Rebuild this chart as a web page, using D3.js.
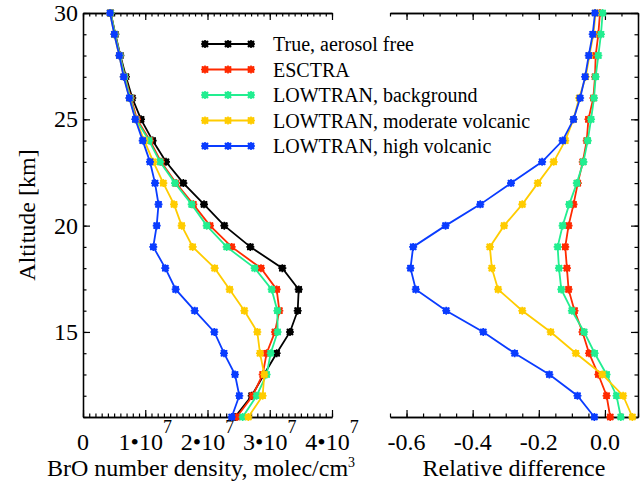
<!DOCTYPE html>
<html>
<head>
<meta charset="utf-8">
<script src="https://cdn.jsdelivr.net/npm/d3@7"></script>
<style>
  html, body { margin: 0; padding: 0; background: #fff; }
  svg { display: block; }
  svg text { font-family: "Liberation Serif", "DejaVu Serif", serif; }
</style>
</head>
<body>
<svg id="chart" width="641" height="481"></svg>
<script>
// Altitude profiles: BrO density (left) and relative difference to the true profile (right)

const altitudes = [30, 29, 28, 27, 26, 25, 24, 23, 22, 21, 20, 19, 18, 17, 16, 15, 14, 13, 12, 11];

// BrO number density, molec/cm3
const densTrue     = [0.445e7, 0.519e7, 0.600e7, 0.690e7, 0.792e7, 0.932e7, 1.119e7, 1.333e7, 1.612e7, 1.944e7, 2.270e7, 2.688e7, 3.202e7, 3.465e7, 3.449e7, 3.325e7, 3.111e7, 2.908e7, 2.710e7, 2.442e7];
const densEsctra   = [0.445e7, 0.516e7, 0.595e7, 0.675e7, 0.771e7, 0.867e7, 1.076e7, 1.253e7, 1.494e7, 1.772e7, 2.040e7, 2.388e7, 2.859e7, 3.111e7, 3.154e7, 3.084e7, 2.950e7, 2.886e7, 2.726e7, 2.469e7];
const densLowBack  = [0.445e7, 0.514e7, 0.594e7, 0.670e7, 0.760e7, 0.851e7, 1.060e7, 1.237e7, 1.478e7, 1.746e7, 1.987e7, 2.308e7, 2.758e7, 3.031e7, 3.122e7, 3.127e7, 3.015e7, 2.950e7, 2.790e7, 2.565e7];
const densLowMod   = [0.435e7, 0.503e7, 0.583e7, 0.655e7, 0.748e7, 0.845e7, 0.985e7, 1.130e7, 1.290e7, 1.462e7, 1.585e7, 1.762e7, 2.115e7, 2.356e7, 2.592e7, 2.800e7, 2.843e7, 2.913e7, 2.886e7, 2.656e7];
const densLowHigh  = [0.434e7, 0.503e7, 0.583e7, 0.653e7, 0.744e7, 0.840e7, 0.959e7, 1.076e7, 1.157e7, 1.213e7, 1.184e7, 1.129e7, 1.322e7, 1.489e7, 1.794e7, 2.109e7, 2.265e7, 2.442e7, 2.511e7, 2.389e7];

// relative difference to the aerosol-free profile
const relEsctra  = [-0.015, -0.020, -0.028, -0.030, -0.035, -0.050, -0.055, -0.067, -0.082, -0.095, -0.110, -0.120, -0.115, -0.110, -0.092, -0.068, -0.048, -0.020, 0.005, 0.016];
const relLowBack = [-0.007, -0.012, -0.020, -0.028, -0.033, -0.042, -0.052, -0.065, -0.085, -0.108, -0.128, -0.143, -0.139, -0.132, -0.100, -0.063, -0.031, 0.005, 0.035, 0.048];
const relLowMod  = [-0.028, -0.035, -0.047, -0.058, -0.078, -0.095, -0.120, -0.155, -0.203, -0.250, -0.305, -0.348, -0.342, -0.323, -0.250, -0.164, -0.088, -0.008, 0.055, 0.083];
const relLowHigh = [-0.030, -0.037, -0.049, -0.060, -0.075, -0.095, -0.128, -0.190, -0.284, -0.377, -0.482, -0.580, -0.588, -0.572, -0.480, -0.368, -0.273, -0.168, -0.083, -0.032];

const seriesNames = ["True, aerosol free", "ESCTRA", "LOWTRAN, background", "LOWTRAN, moderate volcanic", "LOWTRAN, high volcanic"];
const seriesColors = ["#000000", "#ff2a00", "#22ee90", "#ffcc00", "#0a3cff"];

const densTickValues = [0, 1e7, 2e7, 3e7, 4e7];
const densTickLabels = ["0", "1•10|7", "2•10|7", "3•10|7", "4•10|7"];
const relTickValues = [-0.6, -0.4, -0.2, 0.0];
const relTickLabels = ["-0.6", "-0.4", "-0.2", "0.0"];
const altTickValues = [15, 20, 25, 30];

const FONT_FAMILY = "Liberation Serif, DejaVu Serif, serif";
const svg = d3.select("#chart").attr("font-family", FONT_FAMILY);
const FONT = 24;

const y = d3.scaleLinear().domain([11, 30]).range([417, 13]);
const xL = d3.scaleLinear().domain([0, 4e7]).range([83, 332]);
const xR = d3.scaleLinear().domain([-0.65, 0.1]).range([390, 638]);

const yMinor = d3.range(11, 31, 1);

// ── axes (ticks only, labels drawn separately) ───────────────────────────

function ticksOnly(g) {
  g.selectAll("text").remove();
  g.selectAll("path.domain").attr("stroke", "#000").attr("stroke-width", 1.3);
  g.selectAll("line").attr("stroke", "#000").attr("stroke-width", 1.2);
}

function xAxes(x, minorVals, majorVals) {
  const [bot, top] = [y.range()[0], y.range()[1]];
  for (const [vals, len] of [[minorVals, 3.5], [majorVals, 7]]) {
    svg.append("g").attr("transform", `translate(0,${bot})`)
      .call(d3.axisTop(x).tickValues(vals).tickSize(len).tickSizeOuter(0)).call(ticksOnly);
    svg.append("g").attr("transform", `translate(0,${top})`)
      .call(d3.axisBottom(x).tickValues(vals).tickSize(len).tickSizeOuter(0)).call(ticksOnly);
  }
}

xAxes(xL, d3.range(0, 4.01e7, 1e6), densTickValues);
xAxes(xR, d3.range(-0.65, 0.1001, 0.05), relTickValues);

for (const [vals, len] of [[yMinor, 3.5], [altTickValues, 7]]) {
  svg.append("g").attr("transform", `translate(${xL.range()[0]},0)`)
    .call(d3.axisRight(y).tickValues(vals).tickSize(len).tickSizeOuter(0)).call(ticksOnly);
  svg.append("g").attr("transform", `translate(${xR.range()[1]},0)`)
    .call(d3.axisLeft(y).tickValues(vals).tickSize(len).tickSizeOuter(0)).call(ticksOnly);
}

// tick labels
function label(x, yy, size, anchor) {
  return svg.append("text").attr("x", x).attr("y", yy)
    .attr("font-family", FONT_FAMILY).attr("font-size", size).attr("text-anchor", anchor);
}

altTickValues.forEach(v => label(xL.range()[0] - 5, y(v) + 8, FONT, "end").text(v));

densTickValues.forEach((v, i) => {
  const [base, exp] = densTickLabels[i].split("|");
  const t = label(xL(v), 450, FONT, "middle");
  t.append("tspan").text(base);
  if (exp) t.append("tspan").attr("font-size", 18).attr("dy", -17).text(exp);
});

relTickValues.forEach((v, i) => label(xR(v), 450, FONT, "middle").text(relTickLabels[i]));

// axis titles
const tL = label(47, 476, FONT, "start");
tL.append("tspan").text("BrO number density, molec/cm");
tL.append("tspan").attr("font-size", 14).attr("dy", -9).text("3");

label((xR.range()[0] + xR.range()[1]) / 2, 476, FONT, "middle").text("Relative difference");

label(0, 0, FONT, "middle")
  .attr("transform", `translate(35,${(y.range()[0] + y.range()[1]) / 2}) rotate(-90)`)
  .text("Altitude [km]");

// ── profiles ─────────────────────────────────────────────────────────────

const STAR = "M-4,0H4M0,-4V4M-3,-3L3,3M-3,3L3,-3";

function marker(g, px, py, color) {
  const m = g.append("g").attr("transform", `translate(${px},${py})`);
  m.append("rect").attr("x", -3.2).attr("y", -3.2).attr("width", 6.4).attr("height", 6.4).attr("fill", color);
  m.append("path").attr("d", STAR).attr("stroke", color).attr("stroke-width", 1.6);
}

function drawProfile(x, values, color) {
  const pts = values.map((v, i) => [x(v), y(altitudes[i])]);
  const g = svg.append("g");
  g.append("path").attr("d", d3.line()(pts)).attr("fill", "none")
    .attr("stroke", color).attr("stroke-width", 1.8);
  pts.forEach(p => marker(g, p[0], p[1], color));
}

[densTrue, densEsctra, densLowBack, densLowMod, densLowHigh]
  .forEach((vals, i) => drawProfile(xL, vals, seriesColors[i]));
[relEsctra, relLowBack, relLowMod, relLowHigh]
  .forEach((vals, i) => drawProfile(xR, vals, seriesColors[i + 1]));

// ── legend ───────────────────────────────────────────────────────────────

seriesNames.forEach((name, i) => {
  const ly = 44 + i * 25.5;
  const g = svg.append("g");
  g.append("line").attr("x1", 205).attr("x2", 251).attr("y1", ly).attr("y2", ly)
    .attr("stroke", seriesColors[i]).attr("stroke-width", 1.8);
  for (const lx of [205, 228, 251]) marker(g, lx, ly, seriesColors[i]);
  label(273, ly + 7, 20, "start").text(name);
});
</script>
</body>
</html>
